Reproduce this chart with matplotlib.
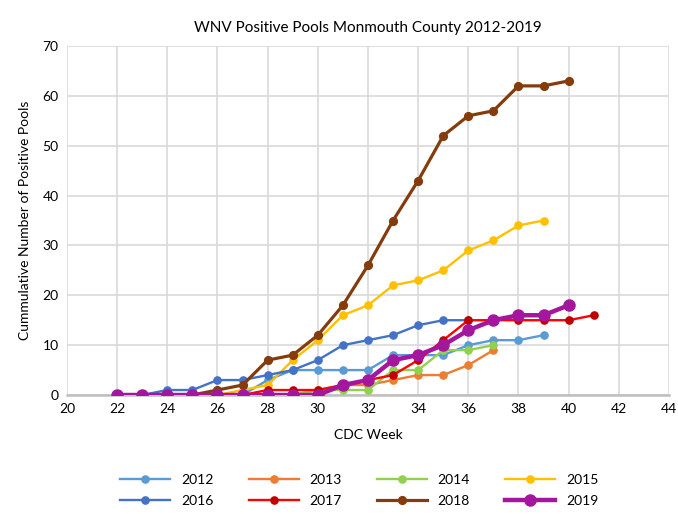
import matplotlib.pyplot as plt
import numpy as np

# cumulative positive pools per CDC week
weeks = list(range(22, 42))

y2012 = [0, 0, 0, 0, 0, 0, 3, 5, 5, 5, 5, 8, 8, 8, 10, 11, 11, 12]
y2013 = [0, 0, 0, 0, 0, 0, 0, 0, 1, 2, 2, 3, 4, 4, 6, 9]
y2014 = [0, 0, 0, 0, 0, 0, 0, 0, 1, 1, 1, 5, 5, 9, 9, 10]
y2015 = [0, 0, 0, 0, 0, 1, 2, 7, 11, 16, 18, 22, 23, 25, 29, 31, 34, 35]
y2016 = [0, 0, 1, 1, 3, 3, 4, 5, 7, 10, 11, 12, 14, 15, 15]
y2017 = [0, 0, 0, 0, 0, 0, 1, 1, 1, 2, 3, 4, 7, 11, 15, 15, 15, 15, 15, 16]
y2018 = [0, 0, 0, 0, 1, 2, 7, 8, 12, 18, 26, 35, 43, 52, 56, 57, 62, 62, 63]
y2019 = [0, 0, 0, 0, 0, 0, 0, 0, 0, 2, 3, 7, 8, 10, 13, 15, 16, 16, 18]

series = [
    ('2012', y2012, '#5B9BD5', '#5B9BD5', 1.7, 5.2),
    ('2013', y2013, '#ED7D31', '#ED7D31', 1.7, 5.2),
    ('2014', y2014, '#92D050', '#92D050', 1.7, 5.2),
    ('2015', y2015, '#FFC000', '#FFC000', 1.7, 5.2),
    ('2016', y2016, '#4472C4', '#4472C4', 1.7, 5.2),
    ('2017', y2017, '#FF0000', '#C00000', 1.7, 5.2),
    ('2018', y2018, '#843C0C', '#843C0C', 2.3, 5.6),
    ('2019', y2019, '#A5169F', '#A5169F', 3.2, 8),
]

plt.rcParams['font.family'] = ['Lato', 'DejaVu Sans']

fig = plt.figure(figsize=(6.78, 5.14), dpi=100)
ax = fig.add_axes([0.0988, 0.2315, 0.8879, 0.679])

handles = []
for label, vals, lc, mc, lw, ms in series:
    h, = ax.plot(weeks[:len(vals)], vals, '-o', color=lc, markerfacecolor=mc,
                 markeredgecolor=mc, linewidth=lw, markersize=ms, label=label, zorder=3)
    handles.append(h)

ax.set_xlim(20, 44)
ax.set_ylim(0, 70)
ax.set_xticks(np.arange(20, 45, 2))
ax.set_yticks(np.arange(0, 71, 10))
ax.grid(True, color='#D9D9D9', linewidth=1.2, zorder=0)
ax.set_axisbelow(True)
for side in ['top', 'right', 'left']:
    ax.spines[side].set_visible(False)
ax.spines['bottom'].set_color('#BFBFBF')
ax.spines['bottom'].set_linewidth(1.8)
ax.tick_params(length=0, labelsize=10, pad=6)

ax.set_title('WNV Positive Pools Monmouth County 2012-2019', fontsize=11, pad=10)
ax.set_xlabel('CDC Week', fontsize=10, labelpad=10)
ax.set_ylabel('Cummulative Number of Positive Pools', fontsize=10, labelpad=8)

# legend is filled row by row in the original, matplotlib fills by column
order = [0, 4, 1, 5, 2, 6, 3, 7]
fig.legend([handles[i] for i in order], [series[i][0] for i in order],
           loc='lower center', bbox_to_anchor=(0.53, -0.01), ncol=4, frameon=False,
           fontsize=10, handlelength=3.6, columnspacing=2.5, labelspacing=0.65)

fig.savefig('out.png', dpi=100)
